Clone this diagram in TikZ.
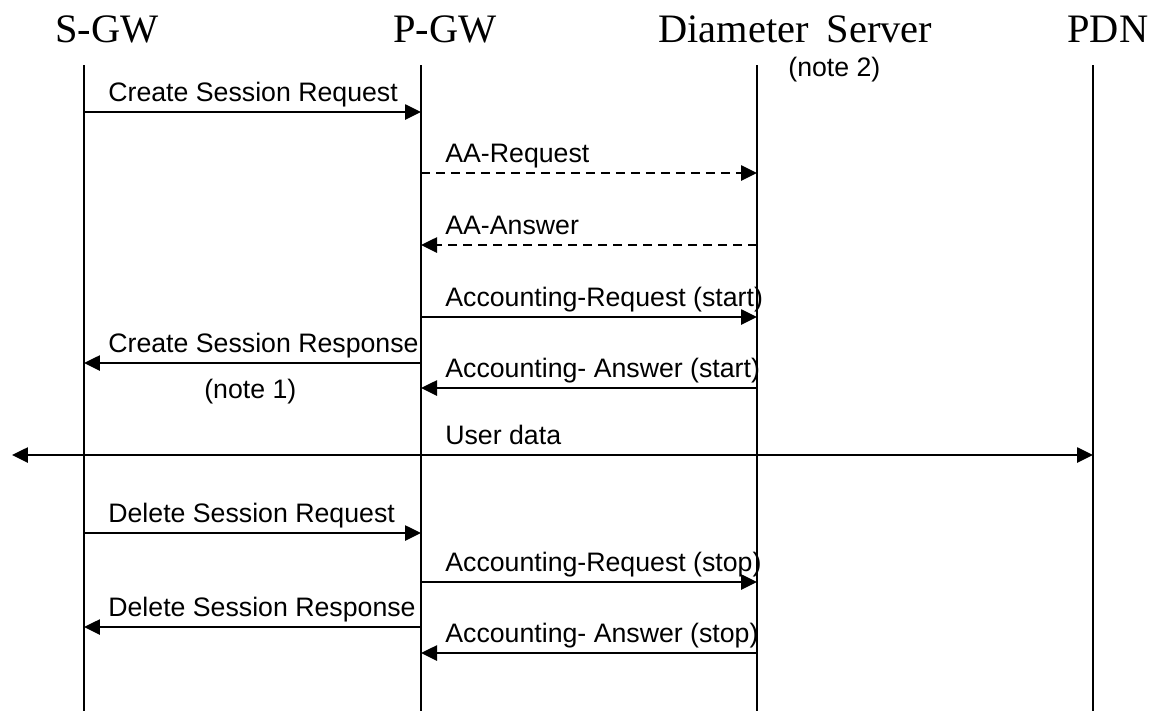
\documentclass[tikz,border=0pt]{standalone}
\usepackage{fontspec}
\setmainfont{Liberation Serif}
\newfontfamily\labfont{Liberation Sans}
\usepackage{tikz}
\usetikzlibrary{arrows.meta}
\tikzset{
  life/.style={line width=0.75pt},
  msg/.style={-{Triangle[length=0.32cm,width=0.3cm]},line width=1.5pt},
  dmsg/.style={msg,dash pattern=on 0.18cm off 0.12cm},
  bmsg/.style={{Triangle[length=0.32cm,width=0.3cm]}-{Triangle[length=0.32cm,width=0.3cm]},line width=1.5pt},
  ent/.style={font=\fontsize{23}{24}\selectfont,anchor=base west,inner sep=0pt},
  lbl/.style={font=\labfont\fontsize{15.2}{17}\selectfont,anchor=base west,inner sep=0pt}
}
\begin{document}
\begin{tikzpicture}[x=0.02cm,y=-0.02cm]
\useasboundingbox (0,0) rectangle (1156,711);
% lifelines
\foreach \nm/\xx in {sgw/84,pgw/421,dia/757,pdn/1093}{
  \coordinate (\nm) at (\xx,65);
  \coordinate (\nm-end) at (\xx,711);
  \draw[life] (\nm) -- (\nm-end);
}
\node[ent] (sgw-t) at (55,42) {S-GW};
\node[ent] (pgw-t) at (393,42) {P-GW};
\node[ent] (dia-t) at (658,42) {Diameter\hspace{0.45em}Server};
\node[ent] (pdn-t) at (1067,42) {PDN};
\node[lbl] (note2) at (788,76) {(note 2)};
% messages
\foreach \yy/\aa/\bb/\lf/\st/\tx in {
  112/sgw/pgw/sgw/msg/Create Session Request,
  173/pgw/dia/pgw/dmsg/AA-Request,
  245/dia/pgw/pgw/dmsg/AA-Answer,
  317/pgw/dia/pgw/msg/Accounting-Request (start),
  363/pgw/sgw/sgw/msg/Create Session Response,
  388/dia/pgw/pgw/msg/Accounting- Answer (start),
  533/sgw/pgw/sgw/msg/Delete Session Request,
  582/pgw/dia/pgw/msg/Accounting-Request (stop),
  627/pgw/sgw/sgw/msg/Delete Session Response,
  653/dia/pgw/pgw/msg/Accounting- Answer (stop)}{
  \coordinate (m\yy) at (0,\yy);
  \draw[\st] (\aa |- m\yy) -- (\bb |- m\yy);
  \path (\lf |- m\yy) ++(24,-11) node[lbl] (t\yy) {\tx};
}
\node[lbl] (note1) at (204,398) {(note 1)};
% user plane
\coordinate (ud) at (12,455);
\draw[bmsg] (ud) -- (pdn |- ud);
\path (pgw |- ud) ++(24,-11) node[lbl] (t455) {User data};
\end{tikzpicture}
\end{document}
